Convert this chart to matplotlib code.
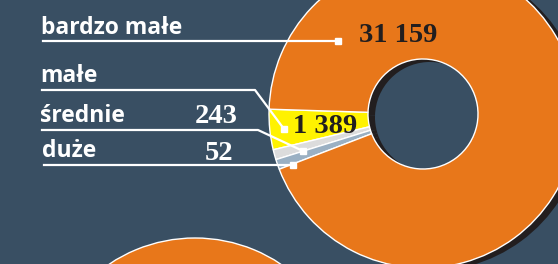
import numpy as np
import matplotlib
matplotlib.use("Agg")
import matplotlib.pyplot as plt

# data
categories = ["małe", "średnie", "duże", "bardzo małe"]
values = [1389, 243, 52, 31159]
value_labels = ["1 389", "243", "52", "31 159"]
colors = ["#fff200", "#dcdcdc", "#9ab0c3", "#e8771a"]

BG = "#394f63"
DARK = "#221e1f"
W, H = 558, 264

# tiny slices get a minimum visible angle, like in the original graphic
MIN_ANGLE = 3.8
angles = np.array(values) / sum(values) * 360
small = angles < MIN_ANGLE
angles[small] = MIN_ANGLE
angles[-1] = 360 - angles[:-1].sum()

fig = plt.figure(figsize=(W / 100, H / 100), dpi=100, facecolor=BG)
ax = fig.add_axes([0, 0, 1, 1])
ax.set_facecolor(BG)

center = (423, 150)
R, r_in = 154, 55
start = 178.2

# shadow
ax.pie(angles, colors=[DARK] * 4, radius=R, center=(center[0] + 7, center[1] - 3),
       startangle=start, counterclock=True,
       wedgeprops=dict(width=R - r_in, linewidth=0))
ax.pie(angles, colors=colors, radius=R, center=center,
       startangle=start, counterclock=True,
       wedgeprops=dict(width=R - r_in, edgecolor="white", linewidth=1.0))

# next chart peeking in from below
ax.pie([1], colors=[colors[-1]], radius=R, center=(195, -128), startangle=-90,
       wedgeprops=dict(width=R - r_in, edgecolor="white", linewidth=1.0))

ax.set_xlim(0, W)
ax.set_ylim(0, H)
ax.set_aspect("equal")
ax.axis("off")

label_font = dict(family="Open Sans", weight="bold", color="white", fontsize=16.5)
num_font = dict(family="Liberation Serif", weight="bold", fontsize=20.5)

# leader lines (name label, line path, value label)
ax.text(41, 230, "bardzo małe", va="baseline", **label_font)
ax.plot([43, 338], [223, 223], color="white", lw=1.6)
ax.plot([338], [223], marker="s", color="white", ms=4)
ax.text(359, 222, value_labels[3], va="baseline", color=DARK, **num_font)

ax.text(40, 182, "małe", va="baseline", **label_font)
ax.plot([42, 255, 284], [174, 174, 135], color="white", lw=1.6)
ax.plot([284], [135], marker="s", color="white", ms=4)
ax.text(293, 131, value_labels[0], va="baseline", color=DARK, **num_font)

ax.text(40, 142, "średnie", va="baseline", **label_font)
ax.plot([42, 258, 303], [134, 134, 113], color="white", lw=1.6)
ax.plot([303], [113], marker="s", color="white", ms=4)
ax.text(238, 141, value_labels[1], va="baseline", ha="right", color="white", **num_font)

ax.text(42, 107, "duże", va="baseline", **label_font)
ax.plot([44, 293], [99, 99], color="white", lw=1.6)
ax.plot([293], [99], marker="s", color="white", ms=4)
ax.text(233, 104, value_labels[2], va="baseline", ha="right", color="white", **num_font)

fig.savefig("out.png", dpi=100, facecolor=BG)
